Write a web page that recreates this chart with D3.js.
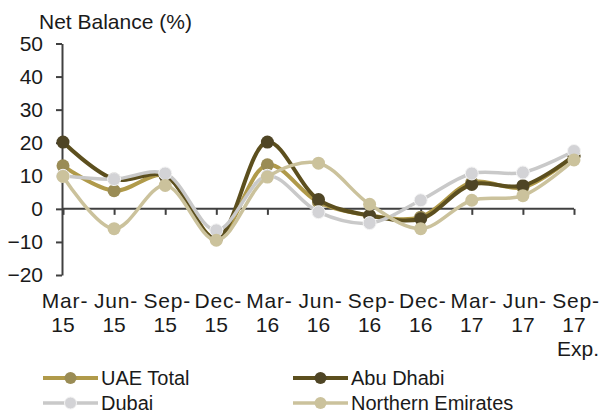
<!DOCTYPE html>
<html lang="en">
<head>
    <meta charset="UTF-8">
    <title>Net Balance (%)</title>
    <script src="https://d3js.org/d3.v7.min.js"></script>
    <style>
        body { margin: 0; background: #fff; }
        svg text { font-family: "Liberation Sans", Arial, sans-serif; fill: #1a1a1a; }
        .axis path, .axis line { stroke: #404040; stroke-width: 2px; }
    </style>
</head>
<body>
<div id="chart"></div>
<script>
    // Quarter labels (two lines each, last one has a third line)
    const categories = ["Mar-15", "Jun-15", "Sep-15", "Dec-15", "Mar-16", "Jun-16",
                        "Sep-16", "Dec-16", "Mar-17", "Jun-17", "Sep-17"];
    const categoryLines = [
        ["Mar-", "15"], ["Jun-", "15"], ["Sep-", "15"], ["Dec-", "15"],
        ["Mar-", "16"], ["Jun-", "16"], ["Sep-", "16"], ["Dec-", "16"],
        ["Mar-", "17"], ["Jun-", "17"], ["Sep-", "17", "Exp."]
    ];
    const yTicks = [-20, -10, 0, 10, 20, 30, 40, 50];

    // Series values
    const uaeTotal   = [13, 5.5, 10, -9, 13.3, 2, -2, -2.5, 8, 6.5, 16];
    const abuDhabi   = [20.2, 9, 10, -9, 20.2, 2.8, -2, -3, 7.4, 7, 16];
    const dubai      = [10, 9, 10.7, -6.5, 10, -1, -4.3, 2.6, 10.7, 11, 17.5];
    const northernEm = [9.8, -6, 7.1, -9.5, 9.6, 13.8, 1.4, -6, 2.6, 4, 14.8];

    const series = [
        { name: "UAE Total", values: uaeTotal, line: "#b09a4a", marker: "#9a8c55", width: 4, edge: "none" },
        { name: "Abu Dhabi", values: abuDhabi, line: "#5c4f1e", marker: "#4f4525", width: 4, edge: "none" },
        { name: "Dubai", values: dubai, line: "#c9c9c9", marker: "#d3d3d6", width: 3.5, edge: "#f4f4f4" },
        { name: "Northern Emirates", values: northernEm, line: "#cbc29c", marker: "#cbc29c", width: 3.5, edge: "none" }
    ];

    const width = 600, height = 414;

    const svg = d3.select("#chart").append("svg")
        .attr("width", width)
        .attr("height", height);

    const x = d3.scalePoint()
        .domain(categories)
        .range([63, 574]);

    const y = d3.scaleLinear()
        .domain([-20, 50])
        .range([275, 43.5]);

    // Y axis
    const yAxis = svg.append("g")
        .attr("class", "axis")
        .attr("transform", "translate(62,0)")
        .call(d3.axisLeft(y).tickValues(yTicks).tickSize(6).tickSizeOuter(0).tickFormat(d3.format("d")));
    yAxis.selectAll("text")
        .attr("x", -19)
        .style("font-size", "21px");

    // X axis sits on zero
    const xAxis = svg.append("g")
        .attr("class", "axis")
        .attr("transform", `translate(0,${y(0)})`)
        .call(d3.axisBottom(x).tickSize(6).tickSizeOuter(0).tickFormat(""));
    xAxis.select(".domain").attr("d", `M62,0H${x(categories[categories.length - 1])}`);

    // Category labels below the plot
    const labels = svg.append("g");
    categories.forEach((c, i) => {
        const t = labels.append("text")
            .attr("x", x(c))
            .attr("y", 308)
            .attr("text-anchor", "middle")
            .style("font-size", "21px");
        categoryLines[i].forEach((s, j) => {
            t.append("tspan")
                .attr("x", j === 0 ? x(c) + 2 : (j === 2 ? x(c) + 4 : x(c)))
                .attr("dy", j === 0 ? 0 : 24)
                .style("letter-spacing", j === 0 ? "0.8px" : null)
                .text(s);
        });
    });

    // Axis title
    svg.append("text")
        .attr("x", 39)
        .attr("y", 29)
        .style("font-size", "21px")
        .text("Net Balance (%)");

    // Lines and markers
    const line = d3.line()
        .x((d, i) => x(categories[i]))
        .y(d => y(d))
        .curve(d3.curveCatmullRom.alpha(0.5));

    series.forEach(s => {
        const g = svg.append("g");
        g.append("path")
            .datum(s.values)
            .attr("d", line)
            .attr("fill", "none")
            .attr("stroke", s.line)
            .attr("stroke-width", s.width);
        g.selectAll("circle")
            .data(s.values)
            .enter().append("circle")
            .attr("cx", (d, i) => x(categories[i]))
            .attr("cy", d => y(d))
            .attr("r", 6.5)
            .attr("fill", s.marker)
            .attr("stroke", s.edge)
            .attr("stroke-width", 1);
    });

    // Legend (two columns, two rows)
    const legendPos = [[43, 378], [293, 378], [43, 403], [293, 403]];
    const legend = svg.append("g");
    series.forEach((s, i) => {
        const [lx, ly] = legendPos[i];
        const item = legend.append("g").attr("transform", `translate(${lx},${ly})`);
        item.append("line")
            .attr("x1", 0).attr("x2", 55)
            .attr("stroke", s.line)
            .attr("stroke-width", s.width);
        item.append("circle")
            .attr("cx", 27.5)
            .attr("r", 6)
            .attr("fill", s.marker)
            .attr("stroke", s.edge)
            .attr("stroke-width", 1);
        item.append("text")
            .attr("x", 58)
            .attr("dy", "0.35em")
            .style("font-size", "20px")
            .text(s.name);
    });
</script>
</body>
</html>
